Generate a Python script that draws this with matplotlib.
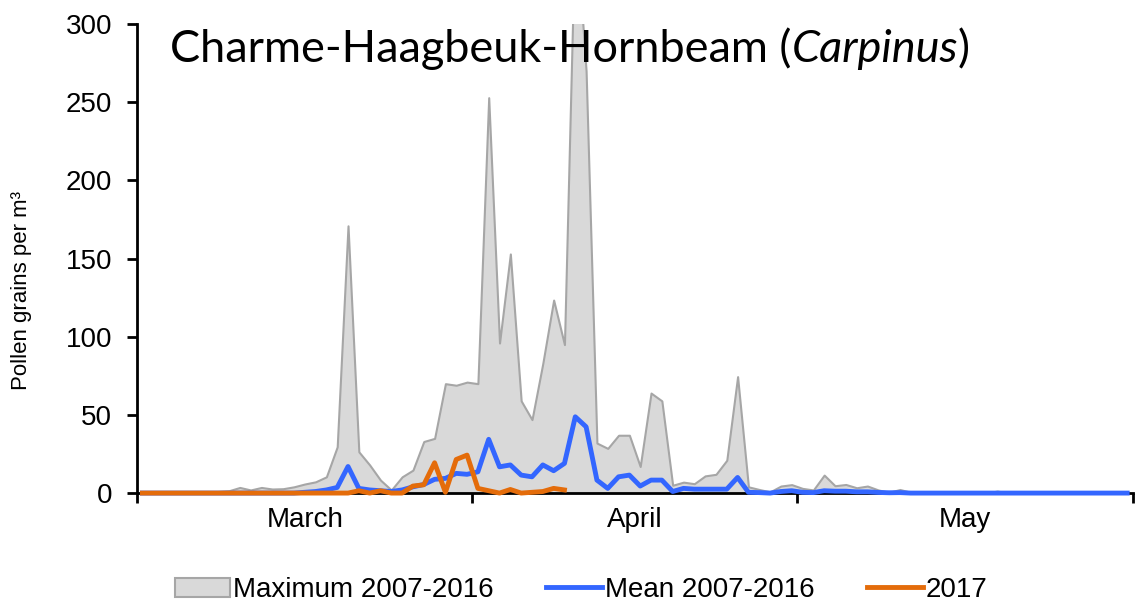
import matplotlib
matplotlib.use('Agg')
import matplotlib.pyplot as plt
import numpy as np

# daily values from 1 March to 31 May
maximum = [0, 0, 0, 0, 0, 0, 0, 1, 1.5, 3.6,
           2, 3.6, 2.6, 2.8, 4, 5.8, 7.2, 10.4, 29.6, 171,
           26.4, 18, 8.3, 2, 10.4, 14.7, 33, 35, 70, 69,
           71, 70, 253, 96, 153, 59, 47, 83, 123.5, 95,
           370, 270, 32, 28.6, 37, 37, 17, 64, 59, 5,
           7, 6, 11, 12, 21, 74.5, 4, 2.3, 0.8, 4.5,
           5.4, 3, 2, 11.5, 4.7, 5.5, 3.4, 4.5, 2, 0.5,
           2.3, 0.5, 0, 0, 0, 0, 0, 0, 0, 1.3,
           0, 0, 0, 0, 0, 0, 0, 0, 0, 0,
           0, 0]
mean = [0, 0, 0, 0, 0, 0, 0, 0, 0, 0,
        0, 0, 0, 0, 0, 0.5, 1, 2, 3.6, 17,
        3, 2, 1.5, 1, 2, 4, 5.5, 8.8, 9.4, 12.6,
        12, 13.6, 34.4, 16.8, 18, 11.5, 10.4, 18, 14.3, 19,
        48.8, 42.4, 8.3, 3, 10.4, 11.5, 4.5, 8.3, 8.3, 1,
        3, 2.5, 2.5, 2.5, 2.5, 10, 0.5, 0.3, 0, 1,
        1.5, 0.5, 0.3, 1.5, 1.2, 1.2, 0.8, 0.8, 0.4, 0.2,
        0.3, 0, 0, 0, 0, 0, 0, 0, 0, 0,
        0, 0, 0, 0, 0, 0, 0, 0, 0, 0,
        0, 0]
y2017 = [0, 0, 0, 0, 0, 0, 0, 0, 0, 0,
         0, 0, 0, 0, 0, 0, 0, 0, 0, 0,
         1.5, 0, 1.5, 0, 0, 4.5, 5.3, 19.4, 0.5, 21.5,
         24.3, 3, 1.5, 0, 2.3, 0, 0.5, 1, 3, 2]

months = ['March', 'April', 'May']
month_days = [31, 30, 31]

days = np.arange(len(maximum)) + 0.5
bounds = np.concatenate([[0], np.cumsum(month_days)])
centers = (bounds[:-1] + bounds[1:]) / 2

plt.rcParams['font.family'] = ['Liberation Sans', 'DejaVu Sans']

fig = plt.figure(figsize=(11.36, 6.05), dpi=100)
ax = fig.add_axes([0.1206, 0.185, 0.8764, 0.775])

ax.fill_between(days, 0, maximum, facecolor='#D9D9D9', edgecolor='#A6A6A6',
                linewidth=1.5, zorder=1, label='Maximum 2007-2016')
ax.plot(days, mean, color='#3366FF', linewidth=3.5, zorder=4, clip_on=False,
        label='Mean 2007-2016')
ax.plot(days[:len(y2017)], y2017, color='#E46C0A', linewidth=3.5, zorder=5,
        clip_on=False, label='2017')

ax.set_xlim(0, bounds[-1])
ax.set_ylim(0, 300)
ax.set_yticks(np.arange(0, 301, 50))
ax.set_xticks(bounds)
ax.set_xticklabels([])
ax.set_xticks(centers, minor=True)
ax.set_xticklabels(months, minor=True)
ax.tick_params(axis='x', which='major', length=7, width=2, direction='out')
ax.tick_params(axis='x', which='minor', length=0, pad=10, labelsize=20)
ax.tick_params(axis='y', length=7, width=2, direction='out', pad=11, labelsize=20)

for s in ['top', 'right']:
    ax.spines[s].set_visible(False)
for s in ['left', 'bottom']:
    ax.spines[s].set_linewidth(2)

fig.text(22 / 1136, 1 - 290 / 605, 'Pollen grains per m³', rotation=90,
         ha='center', va='center', fontsize=16)

# title in the plot area, latin name in italics
t1 = ax.text(170 / 1136, 1 - 62 / 605, 'Charme-Haagbeuk-Hornbeam (', transform=fig.transFigure,
             fontsize=32.5, family='Lato', va='baseline', zorder=10)
t2 = ax.annotate('Carpinus', xy=(1, 0), xycoords=t1, fontsize=32.5, family='Lato',
                 style='italic', va='bottom', zorder=10)
t3 = ax.annotate(')', xy=(1, 0), xycoords=t2, fontsize=32.5, family='Lato',
                 va='bottom', zorder=10)

fig.legend(loc='center', bbox_to_anchor=(581 / 1136, 1 - 590 / 605), ncol=3, frameon=False,
           fontsize=20, handlelength=2.0, handletextpad=0.1, columnspacing=1.9)

fig.savefig('out.png', dpi=100)
